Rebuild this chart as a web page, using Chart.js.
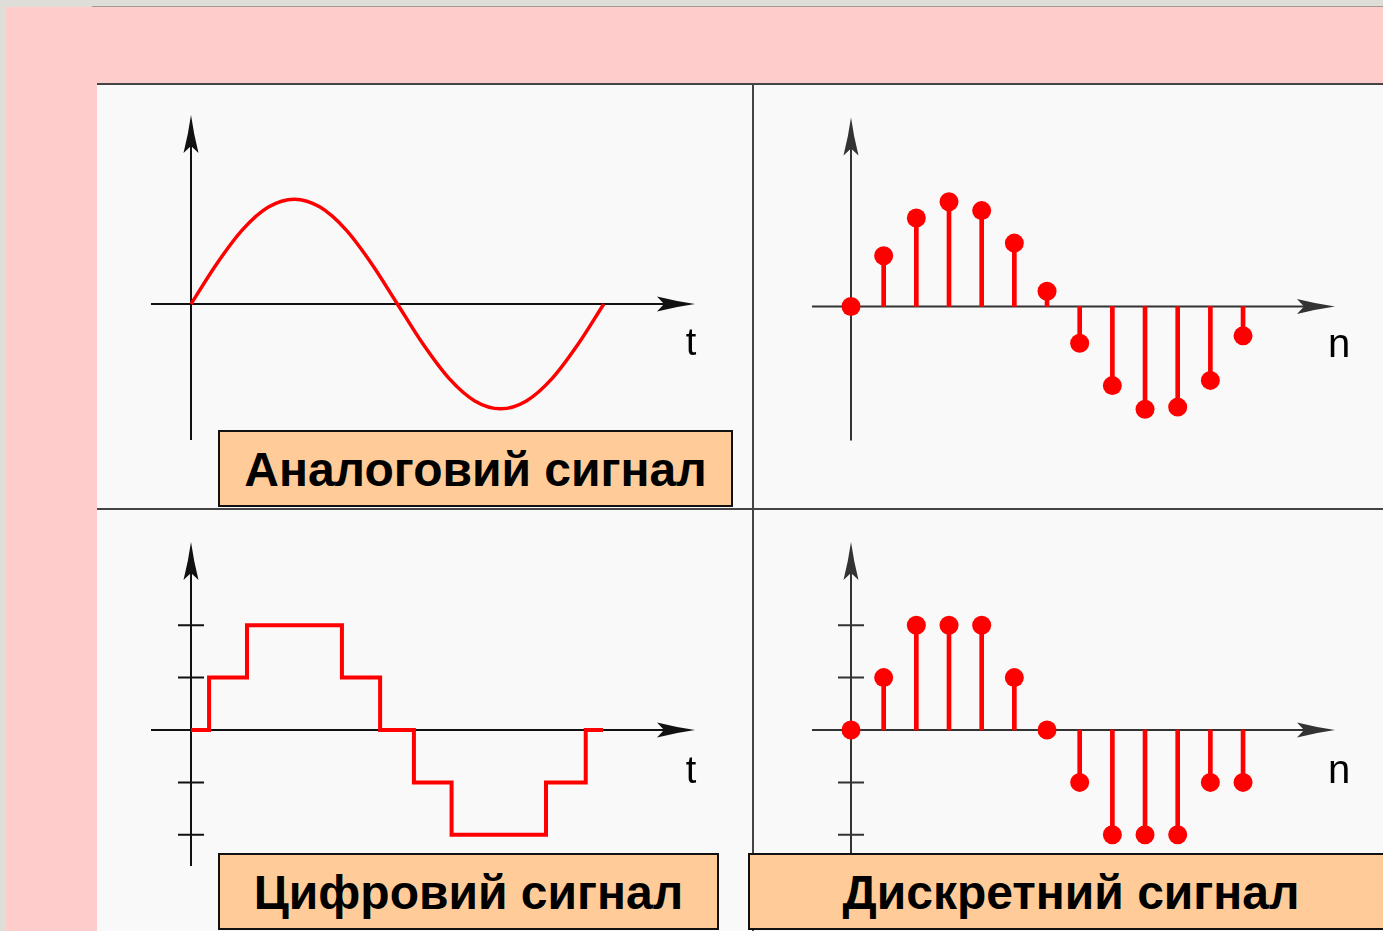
<!DOCTYPE html>
<html>
<head>
<meta charset="utf-8">
<script src="https://cdn.jsdelivr.net/npm/chart.js@4.4.1/dist/chart.umd.min.js"></script>
<style>
  html, body { margin: 0; padding: 0; }
  body { width: 1383px; height: 931px; position: relative; overflow: hidden; background: #dfddd8; }
  #topline { position: absolute; left: 92px; top: 6px; right: 0; height: 1px; background: #9c9c94; }
  #pink { position: absolute; left: 6px; top: 7px; right: 0; bottom: 0; background: #ffcccc; }
  #board { position: absolute; left: 97px; top: 83px; right: 0; bottom: 0; background: #f9f9f9; border-top: 2px solid #444; }
  #vdiv { position: absolute; left: 752px; top: 84px; width: 2px; bottom: 0; background: #444; }
  #hdiv { position: absolute; left: 97px; top: 508px; right: 0; height: 2px; background: #444; }
  canvas { position: absolute; }
  .tag {
    position: absolute; box-sizing: border-box; background: #ffcc99; border: 2px solid #111;
    font: bold 48px "Liberation Sans", Arial, sans-serif; color: #000;
    display: flex; align-items: center; justify-content: center; padding-top: 2px;
  }
</style>
</head>
<body>
<div id="topline"></div>
<div id="pink"></div>
<div id="board"></div>
<div id="vdiv"></div>
<div id="hdiv"></div>

<canvas id="analogChart" width="655" height="423" style="left:97px;top:85px"></canvas>
<canvas id="sampledChart" width="629" height="423" style="left:754px;top:85px"></canvas>
<canvas id="digitalChart" width="655" height="421" style="left:97px;top:510px"></canvas>
<canvas id="quantChart" width="629" height="421" style="left:754px;top:510px"></canvas>

<div class="tag" style="left:218px;top:430px;width:515px;height:77px">Аналоговий сигнал</div>
<div class="tag" style="left:218px;top:853px;width:501px;height:77px">Цифровий сигнал</div>
<div class="tag" style="left:748px;top:853px;width:646px;height:77px">Дискретний сигнал</div>

<script>
// values in quantisation levels (1 level = one tick on the y axis)

// analog signal, read every 1/16 of the period
var analogT = [0, 1, 2, 3, 4, 5, 6, 7, 8, 9, 10, 11, 12, 13, 14, 15, 16];
var analogV = [0, 0.77, 1.42, 1.85, 2.0, 1.85, 1.42, 0.77, 0, -0.77, -1.42, -1.85, -2.0, -1.85, -1.42, -0.77, 0];

// sampled signal (top right)
var sampleN = [0, 1, 2, 3, 4, 5, 6, 7, 8, 9, 10, 11, 12];
var sampledV = [0, 0.97, 1.69, 2.0, 1.83, 1.21, 0.29, -0.70, -1.51, -1.96, -1.92, -1.41, -0.56];

// digital signal: level changes at these times
var stepT = [0, 0.70, 2.17, 5.85, 7.33, 8.64, 10.1, 13.76, 15.3, 15.97];
var stepLevel = [0, 1, 2, 1, 0, -1, -2, -1, 0, 0];

// quantised samples (bottom right)
var quantV = [0, 1, 2, 2, 2, 1, 0, -1, -2, -2, -2, -1, -1];

// level ticks drawn on the y axis of the bottom panels
var levelTicks = [-2, -1, 1, 2];

var RED = '#ff0000';
var LEVEL_PX = 52.4;

function pts(xs, ys) {
  return xs.map(function (x, i) { return { x: x, y: ys[i] }; });
}

// arrow axes through the origin, drawn under the data
var arrowAxes = {
  id: 'arrowAxes',
  beforeDatasetsDraw: function (chart, args, o) {
    var ctx = chart.ctx, x = chart.scales.x, y = chart.scales.y;
    var ox = x.getPixelForValue(0), oy = y.getPixelForValue(0);
    ctx.save();
    ctx.strokeStyle = o.color;
    ctx.fillStyle = o.color;
    ctx.lineWidth = 2;
    ctx.beginPath();
    ctx.moveTo(ox + o.left, oy); ctx.lineTo(ox + o.right - 10, oy);
    ctx.moveTo(ox, oy + o.down); ctx.lineTo(ox, oy - o.up + 10);
    (o.ticks || []).forEach(function (v) {
      var py = y.getPixelForValue(v);
      ctx.moveTo(ox - o.tickLen, py); ctx.lineTo(ox + o.tickLen, py);
    });
    ctx.stroke();
    arrow(ctx, ox + o.right, oy, 0);
    arrow(ctx, ox, oy - o.up, -Math.PI / 2);
    ctx.font = o.font;
    ctx.textAlign = 'center';
    ctx.textBaseline = 'alphabetic';
    ctx.fillStyle = '#000';
    ctx.fillText(o.label, ox + o.labelDx, oy + o.labelDy);
    ctx.restore();
  }
};

function arrow(ctx, tx, ty, ang) {
  ctx.save();
  ctx.translate(tx, ty);
  ctx.rotate(ang);
  ctx.beginPath();
  ctx.moveTo(0, 0);
  ctx.quadraticCurveTo(-18, -2.5, -38, -7.5);
  ctx.lineTo(-31, 0);
  ctx.lineTo(-38, 7.5);
  ctx.quadraticCurveTo(-18, 2.5, 0, 0);
  ctx.closePath();
  ctx.fill();
  ctx.restore();
}

function makeChart(id, type, datasets, frame, axes) {
  var cv = document.getElementById(id);
  var w = cv.width, h = cv.height;
  return new Chart(cv.getContext('2d'), {
    type: type,
    data: { datasets: datasets },
    options: {
      responsive: false,
      animation: false,
      events: [],
      layout: { padding: 0, autoPadding: false },
      plugins: { legend: { display: false }, tooltip: { enabled: false }, arrowAxes: axes },
      scales: {
        x: { type: 'linear', display: false, offset: false,
             min: -frame.ox / frame.xUnit, max: (w - frame.ox) / frame.xUnit },
        y: { type: 'linear', display: false,
             min: -(h - frame.oy) / LEVEL_PX, max: frame.oy / LEVEL_PX }
      }
    },
    plugins: [arrowAxes]
  });
}

function stemSets(values) {
  return [
    { type: 'bar', data: pts(sampleN, values), backgroundColor: RED, borderWidth: 0,
      barThickness: 4, order: 2 },
    { type: 'line', data: pts(sampleN, values), showLine: false, pointRadius: 9.5,
      pointBorderWidth: 0, pointBackgroundColor: RED, order: 1 }
  ];
}

var leftAxes = { color: '#111', left: -40, right: 504, up: 189, down: 136, tickLen: 13,
                 label: 't', labelDx: 500, labelDy: 51, font: '38px "Liberation Sans", Arial, sans-serif' };
var rightAxes = { color: '#333', left: -39, right: 484, up: 189, down: 134, tickLen: 13,
                  label: 'n', labelDx: 488, labelDy: 50, font: '40px "Liberation Sans", Arial, sans-serif' };

makeChart('analogChart', 'line', [
  { data: pts(analogT, analogV), borderColor: RED, borderWidth: 3.5, pointRadius: 0,
    cubicInterpolationMode: 'monotone', fill: false }
], { ox: 94, oy: 219, xUnit: 25.8 }, leftAxes);

makeChart('sampledChart', 'bar', stemSets(sampledV),
  { ox: 97, oy: 221.5, xUnit: 32.67 }, rightAxes);

makeChart('digitalChart', 'line', [
  { data: pts(stepT, stepLevel), borderColor: RED, borderWidth: 4, pointRadius: 0,
    stepped: true, fill: false }
], { ox: 94, oy: 220, xUnit: 25.8 },
  Object.assign({}, leftAxes, { up: 188, down: 136, ticks: levelTicks, labelDy: 53 }));

makeChart('quantChart', 'bar', stemSets(quantV),
  { ox: 97, oy: 220, xUnit: 32.67 },
  Object.assign({}, rightAxes, { up: 188, down: 136, ticks: levelTicks, labelDy: 53 }));
</script>
</body>
</html>
